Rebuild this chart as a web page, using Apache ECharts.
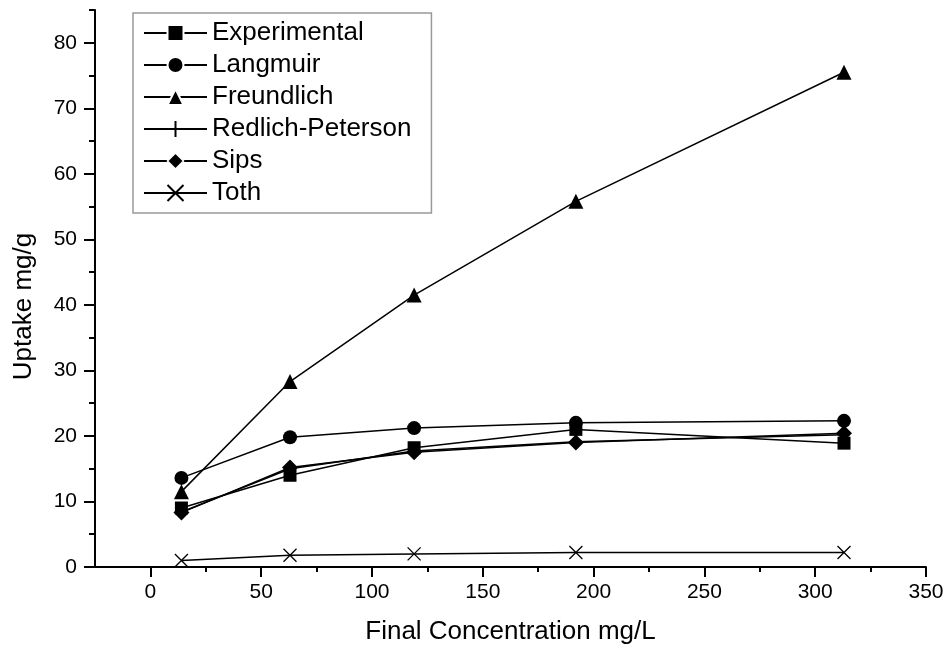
<!DOCTYPE html>
<html>
<head>
<meta charset="utf-8">
<script src="https://cdn.jsdelivr.net/npm/echarts@6/dist/echarts.min.js"></script>
<style>
  html, body { margin: 0; padding: 0; background: #fff; }
  #chart { width: 946px; height: 649px; }
</style>
</head>
<body>
<div id="chart"></div>
<script>
// values
var concentration = [14, 63, 119, 192, 313];
var experimental = [9.0, 14.0, 18.2, 21.0, 18.9];
var langmuir = [13.6, 19.8, 21.2, 22.0, 22.3];
var freundlich = [11.5, 28.3, 41.5, 55.8, 75.5];
var redlichPeterson = [8.4, 15.0, 17.7, 19.1, 20.2];
var sips = [8.3, 15.2, 17.5, 19.0, 20.4];
var toth = [1.0, 1.8, 2.0, 2.2, 2.2];

var xMajor = [0, 50, 100, 150, 200, 250, 300, 350];
var xMinor = [25, 75, 125, 175, 225, 275, 325];
var yMajor = [0, 10, 20, 30, 40, 50, 60, 70, 80];
var yMinor = [5, 15, 25, 35, 45, 55, 65, 75, 85];

var font = 'Liberation Sans, Arial, sans-serif';

function pairs(ys) {
    return concentration.map(function (x, i) { return [x, ys[i]]; });
}

var plusPath = 'path://M5,0L5,10M0,5L10,5';
var crossPath = 'path://M0,0L10,10M10,0L0,10';

function makeSeries(name, ys, symbol, size, stroked) {
    return {
        name: name,
        type: 'line',
        data: pairs(ys),
        symbol: symbol,
        symbolSize: size,
        showAllSymbol: true,
        lineStyle: { color: '#000', width: 1.5 },
        itemStyle: stroked
            ? { color: 'none', borderColor: '#000', borderWidth: 1.3 }
            : { color: '#000', borderColor: '#000', borderWidth: 0 },
        emphasis: { disabled: true }
    };
}

var chart = echarts.init(document.getElementById('chart'));
chart.setOption({
    animation: false,
    backgroundColor: '#fff',
    grid: { left: 95, right: 20, top: 10, bottom: 82, outerBoundsMode: 'none', containLabel: false },
    legend: {
        orient: 'vertical',
        left: 133,
        top: 13,
        align: 'left',
        padding: [7, 20, 7, 10],
        itemWidth: 63,
        itemHeight: 20,
        itemGap: 6,
        borderColor: '#999',
        borderWidth: 1.5,
        selectedMode: false,
        textStyle: { fontFamily: font, fontSize: 26, lineHeight: 26, color: '#000' },
        data: [
            { name: 'Experimental', itemStyle: { borderColor: '#fff', borderWidth: 2 } },
            { name: 'Langmuir', itemStyle: { borderColor: '#fff', borderWidth: 2 } },
            { name: 'Freundlich', itemStyle: { borderColor: '#fff', borderWidth: 2 } },
            { name: 'Redlich-Peterson' },
            { name: 'Sips', itemStyle: { borderColor: '#fff', borderWidth: 1.5 } },
            { name: 'Toth' }
        ]
    },
    xAxis: [{
        type: 'value',
        position: 'bottom',
        min: -25,
        max: 350,
        name: 'Final Concentration mg/L',
        nameLocation: 'middle',
        nameGap: 52,
        nameTextStyle: { fontFamily: font, fontSize: 26, color: '#000' },
        axisLine: { show: true, onZero: false, lineStyle: { color: '#000', width: 2 } },
        axisTick: { show: true, customValues: xMajor, length: 10, lineStyle: { color: '#000', width: 2 } },
        axisLabel: { customValues: xMajor, margin: 15, fontFamily: font, fontSize: 21, color: '#000' },
        splitLine: { show: false }
    }, {
        type: 'value',
        position: 'bottom',
        min: -25,
        max: 350,
        axisLine: { show: false, onZero: false },
        axisTick: { show: true, customValues: xMinor, length: 5, lineStyle: { color: '#000', width: 2 } },
        axisLabel: { show: false },
        splitLine: { show: false }
    }],
    yAxis: [{
        type: 'value',
        position: 'left',
        min: 0,
        max: 85,
        name: 'Uptake mg/g',
        nameLocation: 'middle',
        nameGap: 58,
        nameTextStyle: { fontFamily: font, fontSize: 26, color: '#000', padding: [0, 36, 0, 0] },
        axisLine: { show: true, onZero: false, lineStyle: { color: '#000', width: 2 } },
        axisTick: { show: true, customValues: yMajor, length: 11, lineStyle: { color: '#000', width: 2 } },
        axisLabel: { customValues: yMajor, margin: 18, fontFamily: font, fontSize: 21, color: '#000' },
        splitLine: { show: false }
    }, {
        type: 'value',
        position: 'left',
        min: 0,
        max: 85,
        axisLine: { show: false, onZero: false },
        axisTick: { show: true, customValues: yMinor, length: 6, lineStyle: { color: '#000', width: 2 } },
        axisLabel: { show: false },
        splitLine: { show: false }
    }],
    series: [
        makeSeries('Experimental', experimental, 'rect', 13, false),
        makeSeries('Langmuir', langmuir, 'circle', 14, false),
        makeSeries('Freundlich', freundlich, 'triangle', 15, false),
        makeSeries('Redlich-Peterson', redlichPeterson, plusPath, 12, true),
        makeSeries('Sips', sips, 'diamond', 16, false),
        makeSeries('Toth', toth, crossPath, 13, true)
    ]
});
</script>
</body>
</html>
